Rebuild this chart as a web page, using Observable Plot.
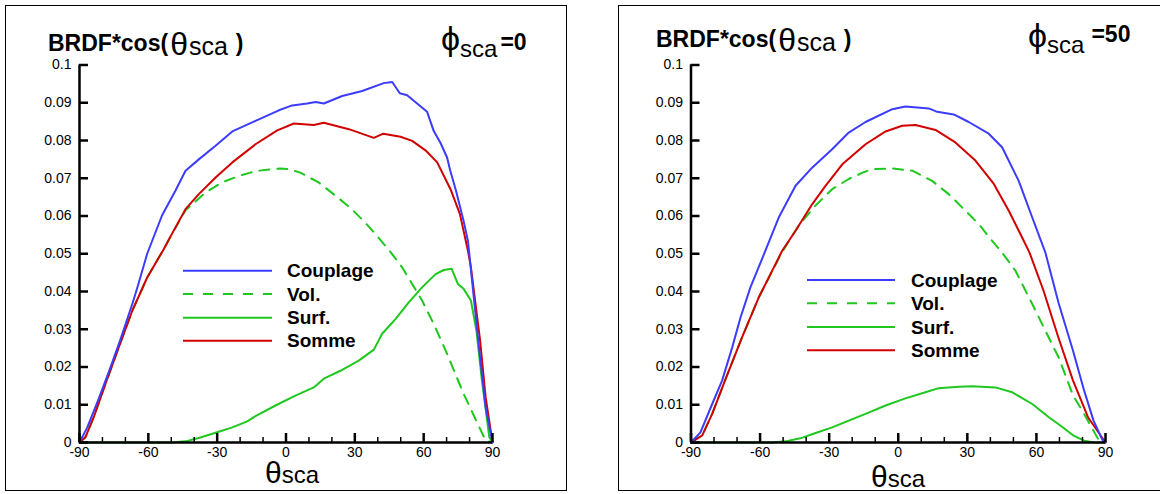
<!DOCTYPE html>
<html><head><meta charset="utf-8">
<script src="https://cdn.jsdelivr.net/npm/d3@7"></script>
<script src="https://cdn.jsdelivr.net/npm/@observablehq/plot@0.6"></script>
<style>
html,body{margin:0;padding:0;background:#fff;}
#root{position:relative;width:1160px;height:494px;overflow:hidden;background:#fff;}
.panel{position:absolute;top:0;}
.frame{position:absolute;border:1.5px solid #000;box-sizing:border-box;pointer-events:none;}
</style></head><body><div id="root"></div>
<script>
// ---------- axis ticks ----------
const xMajor = [-90, -60, -30, 0, 30, 60, 90];
const xMinor = [-80, -70, -50, -40, -20, -10, 10, 20, 40, 50, 70, 80];
const yTicks = [0, 0.01, 0.02, 0.03, 0.04, 0.05, 0.06, 0.07, 0.08, 0.09, 0.1];
const seriesNames = ["Couplage", "Vol.", "Surf.", "Somme"];

// ---------- phi_sca = 0 ----------
const p0CouplageT = [-90, -86.6, -81.6, -76.5, -72.1, -67.0, -64.9, -60.5, -54.0, -48.2, -43.8, -38.0, -30.7, -23.4, -13.3, -3.1, 2.7, 9.2, 12.9, 16.5, 24.5, 33.2, 42.6, 46.3, 49.6, 52.8, 61.5, 64.4, 67.3, 70.2, 71.6, 74.1, 77.4, 79.3, 83.8, 87.0, 90];
const p0Couplage  = [0, 0.0040, 0.0116, 0.0199, 0.0274, 0.0367, 0.0408, 0.0500, 0.0602, 0.0667, 0.0720, 0.0750, 0.0786, 0.0824, 0.0852, 0.0880, 0.0893, 0.0898, 0.0902, 0.0898, 0.0918, 0.0931, 0.0952, 0.0955, 0.0925, 0.0920, 0.0876, 0.0825, 0.0794, 0.0755, 0.0720, 0.0667, 0.0587, 0.0534, 0.0270, 0.0093, 0];
const p0SommeT = [-90, -87.4, -83.8, -78.7, -72.9, -67.0, -60.5, -53.3, -49.6, -43.8, -38.0, -30.7, -23.4, -13.3, -3.8, 3.4, 12.1, 16.5, 27.4, 38.3, 42.4, 49.9, 55.0, 60.8, 65.9, 71.7, 75.8, 79.3, 80.6, 84.6, 87.0, 90];
const p0Somme  = [0, 0.0014, 0.0067, 0.0155, 0.0252, 0.0349, 0.0437, 0.0512, 0.0554, 0.0618, 0.0658, 0.0702, 0.0742, 0.0790, 0.0827, 0.0845, 0.0841, 0.0847, 0.0830, 0.0807, 0.0818, 0.0810, 0.0799, 0.0774, 0.0742, 0.0671, 0.0605, 0.0508, 0.0464, 0.0270, 0.0120, 0];
const p0VolT = [-90, -87.4, -83.8, -78.7, -72.9, -67.0, -60.5, -53.3, -49.6, -43.8, -35.1, -27.8, -20.6, -15.5, -11.9, -2.5, 1.1, 6.2, 14.2, 20.7, 28.0, 33.8, 39.6, 45.5, 50.6, 55.0, 59.3, 64.4, 70.2, 77.4, 82.2, 87.0, 90];
const p0Vol  = [0, 0.0014, 0.0067, 0.0155, 0.0252, 0.0349, 0.0437, 0.0512, 0.0554, 0.0615, 0.0662, 0.0689, 0.0706, 0.0715, 0.0720, 0.0726, 0.0724, 0.0715, 0.0689, 0.0658, 0.0622, 0.0587, 0.0548, 0.0505, 0.0464, 0.0420, 0.0376, 0.0314, 0.0235, 0.0129, 0.0067, 0.0005, 0];
const p0SurfT = [-90, -50, -43.8, -38.0, -30.7, -23.4, -16.9, -13.3, -4.6, 4.1, 12.1, 16.5, 23.7, 31.7, 38.3, 41.9, 47.7, 53.5, 59.3, 65.2, 68.8, 72.2, 74.9, 77.4, 80.6, 83.0, 85.4, 88.6, 90];
const p0Surf  = [0, 0, 0.0003, 0.0012, 0.0026, 0.0040, 0.0056, 0.0070, 0.0098, 0.0124, 0.0146, 0.0169, 0.0190, 0.0217, 0.0246, 0.0288, 0.0327, 0.0371, 0.0411, 0.0446, 0.0457, 0.0460, 0.0420, 0.0407, 0.0376, 0.0296, 0.0164, 0.0014, 0];

// ---------- phi_sca = 50 ----------
const p50CouplageT = [-90, -85.9, -80.8, -76.5, -72.1, -68.5, -64.2, -57.7, -51.9, -44.6, -37.4, -28.7, -21.5, -14.2, -2.6, 3.1, 13.3, 16.9, 24.1, 30.6, 39.3, 45.1, 52.3, 58.2, 63.9, 69.6, 75.9, 80.7, 84.8, 88.8, 90];
const p50Couplage  = [0, 0.0027, 0.0102, 0.0164, 0.0252, 0.0331, 0.0411, 0.0508, 0.0596, 0.0680, 0.0728, 0.0777, 0.0821, 0.0849, 0.0883, 0.0890, 0.0885, 0.0876, 0.0869, 0.0849, 0.0818, 0.0782, 0.0693, 0.0596, 0.0503, 0.0370, 0.0243, 0.0138, 0.0058, 0.0005, 0];
const p50SommeT = [-90, -85.1, -80.8, -75.0, -67.8, -60.6, -50.4, -44.6, -37.4, -31.6, -24.3, -14.2, -5.5, 1.7, 7.5, 16.2, 24.8, 33.5, 41.5, 48.0, 53.8, 57.0, 63.1, 69.5, 75.9, 82.4, 90];
const p50Somme  = [0, 0.0019, 0.0076, 0.0168, 0.0279, 0.0384, 0.0508, 0.0561, 0.0631, 0.0680, 0.0737, 0.0790, 0.0824, 0.0839, 0.0841, 0.0828, 0.0795, 0.0747, 0.0685, 0.0614, 0.0543, 0.0503, 0.0402, 0.0279, 0.0164, 0.0067, 0];
const p50VolT = [-90, -85.1, -80.8, -75.0, -67.8, -60.6, -50.4, -43.2, -35.9, -28.7, -21.5, -15.0, -11.3, -2.6, 6.1, 14.7, 21.9, 28.5, 34.9, 40.8, 45.1, 50.9, 58.2, 63.9, 69.6, 75.9, 80.7, 87.2, 90];
const p50Vol  = [0, 0.0019, 0.0076, 0.0168, 0.0279, 0.0384, 0.0505, 0.0575, 0.0628, 0.0671, 0.0698, 0.0716, 0.0724, 0.0726, 0.0720, 0.0693, 0.0658, 0.0618, 0.0579, 0.0534, 0.0503, 0.0455, 0.0367, 0.0296, 0.0226, 0.0125, 0.0076, 0.0005, 0];
const p50SurfT = [-90, -55, -49, -42.5, -35.9, -28.7, -21.5, -14.2, -5.5, 3.1, 11.8, 17.6, 26.3, 32.1, 42.2, 49.5, 58.2, 65.4, 70.4, 75.9, 80.7, 85, 90];
const p50Surf  = [0, 0, 0.0003, 0.0011, 0.0025, 0.0040, 0.0058, 0.0076, 0.0098, 0.0117, 0.0133, 0.0144, 0.0148, 0.0149, 0.0146, 0.0133, 0.0102, 0.0067, 0.0045, 0.0019, 0.0005, 0, 0];

// ---------- styling ----------
const FONT = '"Liberation Sans", Arial, Helvetica, sans-serif';
const BLUE = "#3c3cff", RED = "#d20000", GREEN = "#1ec81e";
const W = 580, H = 494, MT = 64.5, MB = 52;

const root = document.getElementById("root");

function rows(t, v) { return t.map((d, i) => ({theta: d, v: v[i]})); }

function addText(svg, x, y, parts) {
  const t = d3.select(svg).append("text").attr("x", x).attr("y", y)
    .attr("text-anchor", "start")
    .attr("font-family", FONT).attr("fill", "#000");
  parts.forEach(p => t.append("tspan")
    .attr("y", p.y ?? y).attr("dx", p.dx || 0)
    .attr("text-anchor", "start")
    .attr("font-size", p.size).attr("font-weight", p.w || "normal")
    .text(p.t));
}

function panel(cfg) {
  const plotH = H - MT - MB, plotW = W - cfg.mL - cfg.mR;
  const svg = Plot.plot({
    width: W, height: H,
    marginLeft: cfg.mL, marginRight: cfg.mR, marginTop: MT, marginBottom: MB,
    x: {domain: [-90, 90]},
    y: {domain: [0, 0.1]},
    style: {background: "transparent", fontFamily: FONT, fontSize: "14px", color: "#000", overflow: "visible"},
    marks: [
      Plot.line(rows(cfg.surfT, cfg.surf), {x: "theta", y: "v", stroke: GREEN, strokeWidth: 2}),
      Plot.line(rows(cfg.volT, cfg.vol), {x: "theta", y: "v", stroke: GREEN, strokeWidth: 2, strokeDasharray: "10,8"}),
      Plot.line(rows(cfg.sommeT, cfg.somme), {x: "theta", y: "v", stroke: RED, strokeWidth: 2}),
      Plot.line(rows(cfg.coupT, cfg.coup), {x: "theta", y: "v", stroke: BLUE, strokeWidth: 2}),
      Plot.ruleY([0], {strokeWidth: 2.5}),
      Plot.ruleX([-90], {strokeWidth: 2.5}),
      Plot.tickX(xMajor, {x: d => d, insetTop: plotH - 9, strokeWidth: 2.5}),
      Plot.tickX(xMinor, {x: d => d, insetTop: plotH - 5, strokeWidth: 1.5}),
      Plot.tickY(yTicks, {y: d => d, insetRight: plotW - 9, strokeWidth: 2.5}),
      Plot.axisX({ticks: xMajor, tickSize: 0, tickPadding: 5, tickFormat: d => String(d), label: null}),
      Plot.axisY({ticks: yTicks, tickSize: 0, tickPadding: 8, tickFormat: d => String(+d.toFixed(2)), label: null})
    ]
  });
  svg.classList.add("panel");
  svg.style.left = cfg.left + "px";
  svg.style.width = W + "px";
  svg.style.maxWidth = "none";

  // titles
  addText(svg, cfg.titleX, cfg.titleY, [
    {t: "BRDF*cos(", size: 23, w: "bold"},
    {t: "θ", size: 32, y: cfg.titleY + 4, dx: 2},
    {t: "sca", size: 25, y: cfg.titleY + 4, dx: 1},
    {t: ")", size: 23, w: "bold", dx: 8, y: cfg.titleY}
  ]);
  addText(svg, cfg.phiX, cfg.phiY, [
    {t: "ϕ", size: 34},
    {t: "sca", size: 24, y: cfg.phiSubY},
    {t: cfg.phiVal, size: 23, w: "bold", y: cfg.phiValY, dx: cfg.phiValDx}
  ]);
  addText(svg, cfg.xlabX, cfg.xlabY, [
    {t: "θ", size: 30},
    {t: "sca", size: 24}
  ]);

  // legend
  const styles = [
    {stroke: BLUE, dash: null}, {stroke: GREEN, dash: "10,10"},
    {stroke: GREEN, dash: null}, {stroke: RED, dash: null}
  ];
  const g = d3.select(svg).append("g");
  seriesNames.forEach((name, i) => {
    const y = cfg.legY[i];
    g.append("line").attr("x1", cfg.legX1).attr("x2", cfg.legX2).attr("y1", y).attr("y2", y)
      .attr("stroke", styles[i].stroke).attr("stroke-width", 2)
      .attr("stroke-dasharray", styles[i].dash);
    g.append("text").attr("x", cfg.legTX).attr("y", y + 6.5)
      .attr("text-anchor", "start")
      .attr("font-family", FONT).attr("font-size", 19).attr("font-weight", "bold")
      .attr("fill", "#000").text(name);
  });
  root.appendChild(svg);
}

panel({
  left: 0, mL: 79, mR: 88,
  coupT: p0CouplageT, coup: p0Couplage, sommeT: p0SommeT, somme: p0Somme,
  volT: p0VolT, vol: p0Vol, surfT: p0SurfT, surf: p0Surf,
  titleX: 48, titleY: 51,
  phiX: 441, phiY: 50, phiSubY: 57, phiVal: "=0", phiValY: 50, phiValDx: 3,
  xlabX: 265, xlabY: 483,
  legX1: 183, legX2: 272, legTX: 287, legY: [270.7, 294, 317.7, 340.7]
});
panel({
  left: 580, mL: 110.5, mR: 55,
  coupT: p50CouplageT, coup: p50Couplage, sommeT: p50SommeT, somme: p50Somme,
  volT: p50VolT, vol: p50Vol, surfT: p50SurfT, surf: p50Surf,
  titleX: 76, titleY: 47,
  phiX: 448, phiY: 47, phiSubY: 53, phiVal: "=50", phiValY: 42, phiValDx: 7,
  xlabX: 291, xlabY: 487,
  legX1: 227, legX2: 315, legTX: 331, legY: [280, 303.3, 327, 350.3]
});

// panel frames
[[5, 5, 562, 486], [618, 5, 600, 486]].forEach(([l, t, w, h]) => {
  const d = document.createElement("div");
  d.className = "frame";
  Object.assign(d.style, {left: l + "px", top: t + "px", width: w + "px", height: h + "px"});
  root.appendChild(d);
});
</script>
</body></html>
